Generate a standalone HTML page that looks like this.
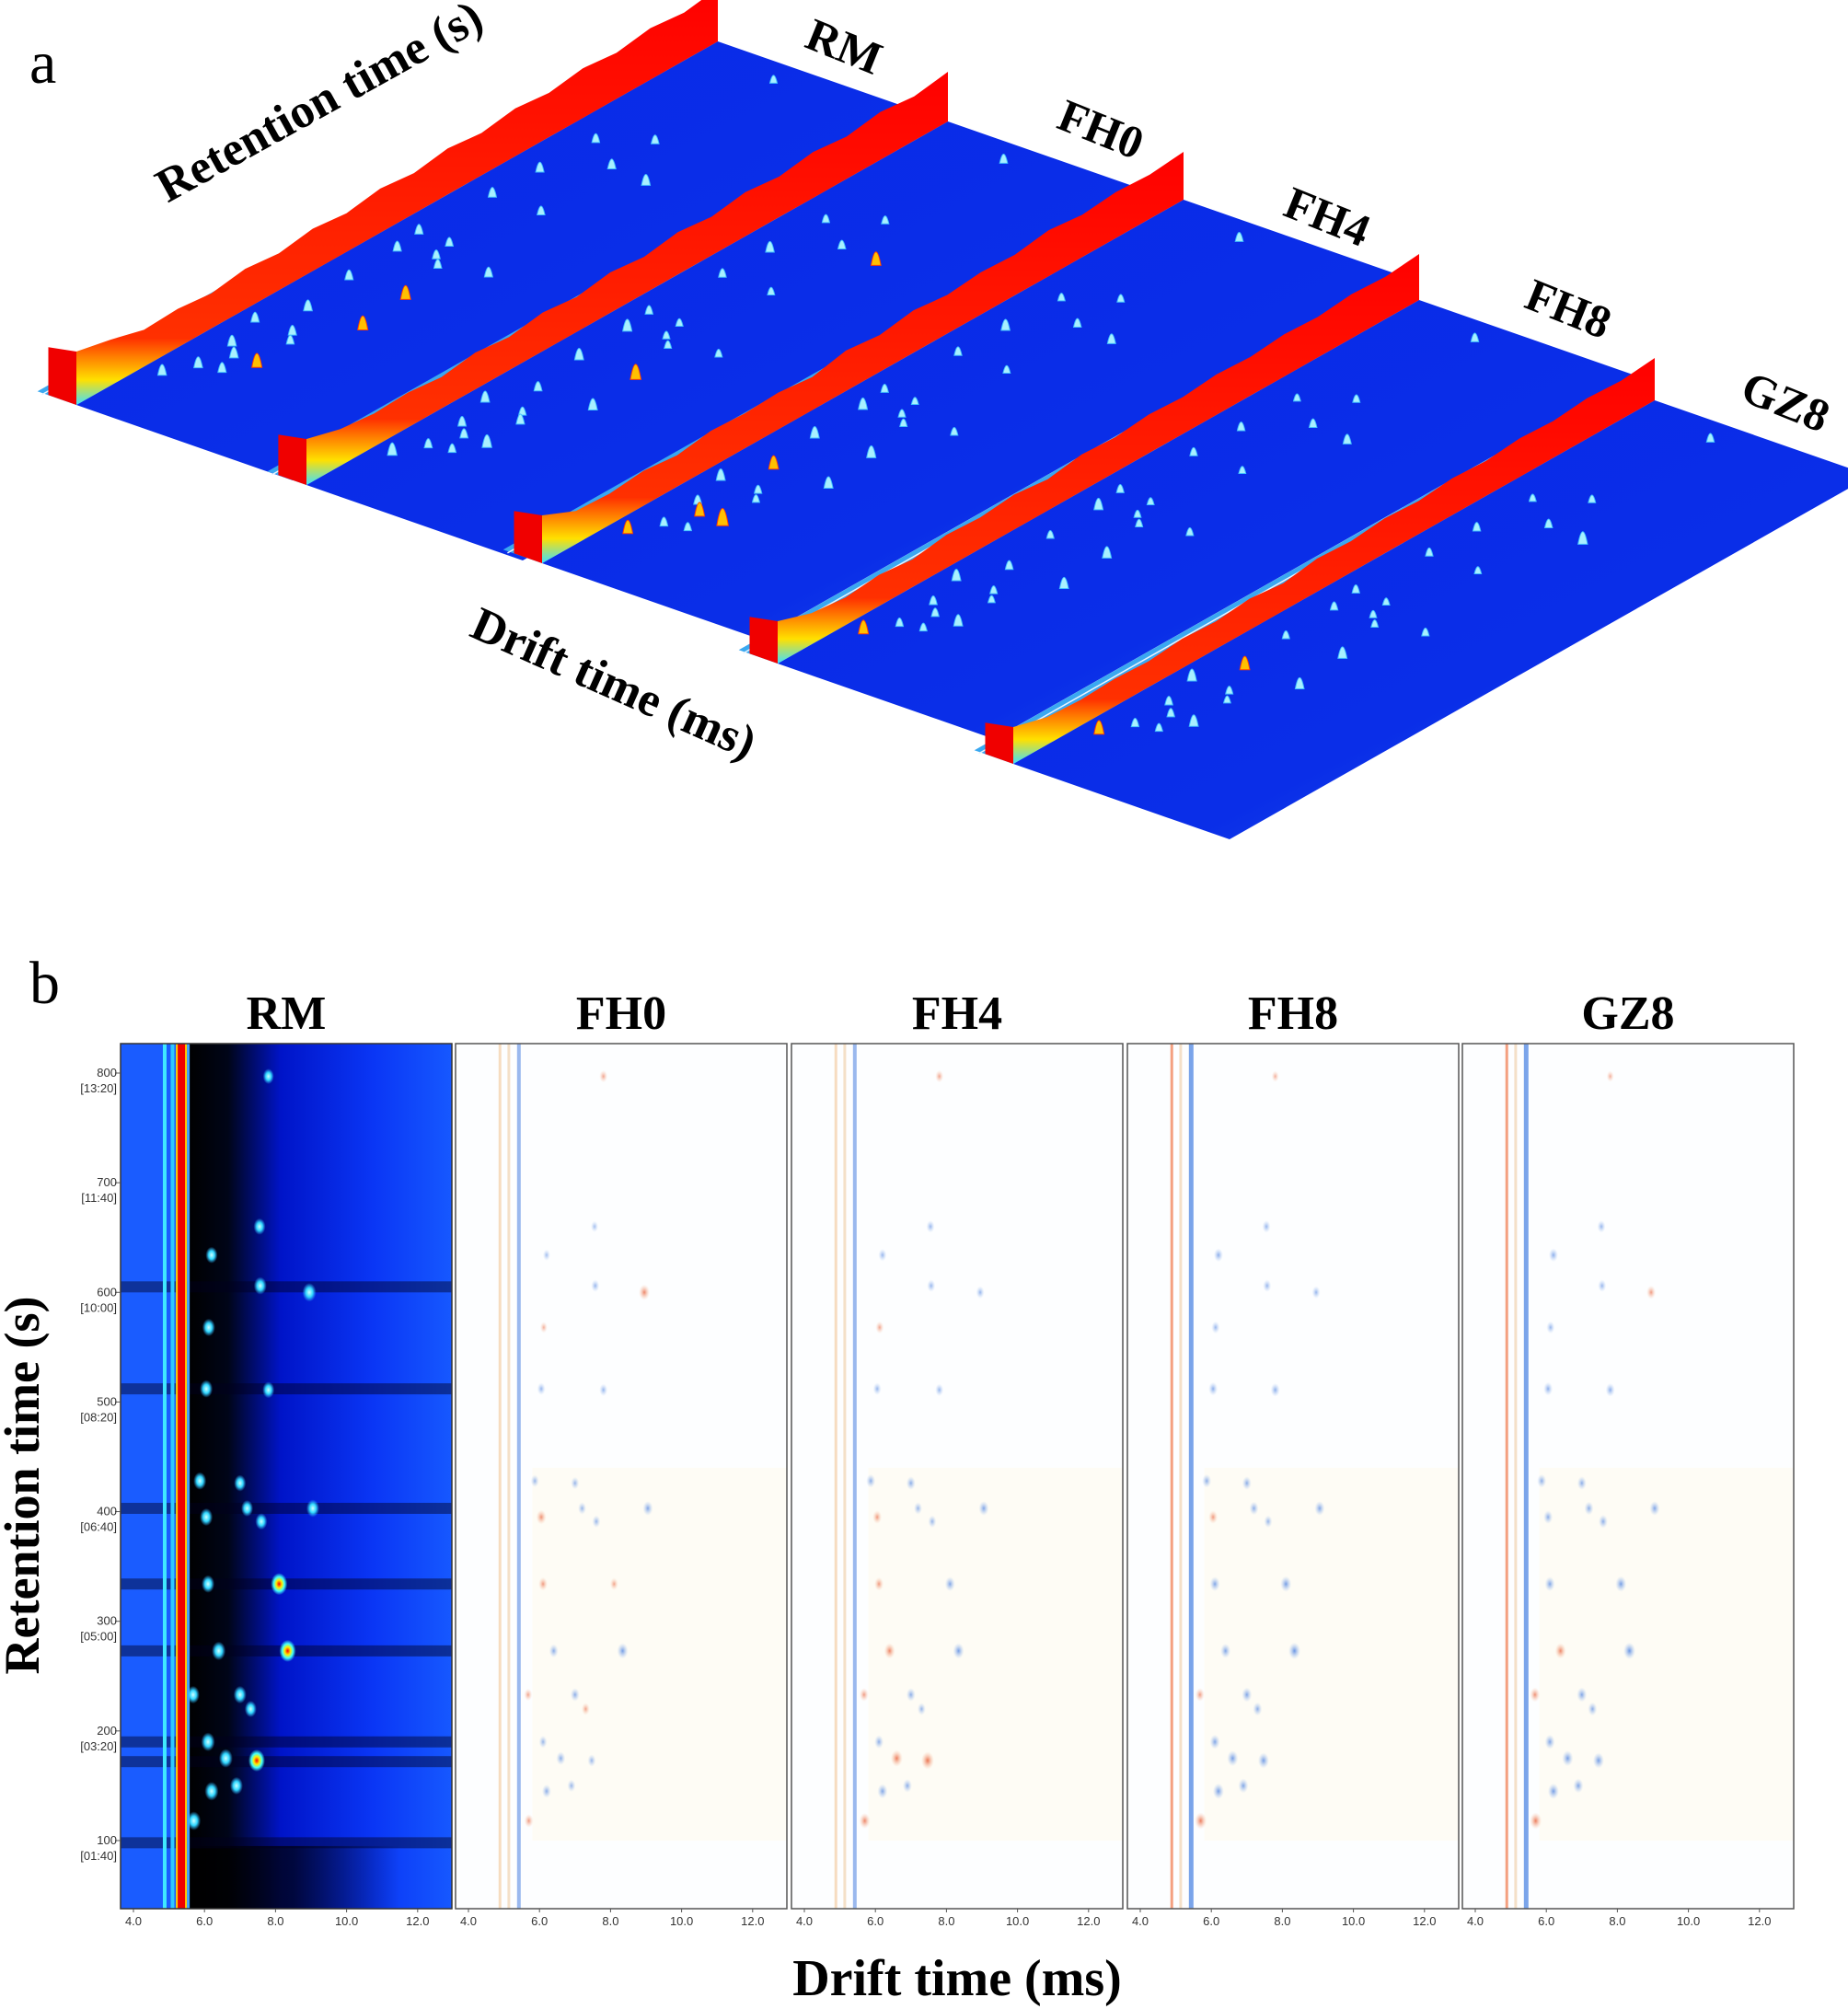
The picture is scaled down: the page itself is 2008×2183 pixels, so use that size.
<!DOCTYPE html>
<html><head><meta charset="utf-8">
<style>
html,body{margin:0;padding:0;background:#fff;}
svg{display:block;}
.t{font-family:"Liberation Serif",serif;font-weight:bold;fill:#000;}
.tk{font-family:"Liberation Sans",sans-serif;font-size:13px;fill:#333;}
</style></head>
<body>
<svg id="fig" width="2008" height="2183" viewBox="0 0 2008 2183" xmlns="http://www.w3.org/2000/svg">
<defs>
<linearGradient id="sheetG" x1="0" y1="0" x2="1" y2="1">
<stop offset="0" stop-color="#0828e8"/><stop offset="0.6" stop-color="#0a2ee8"/><stop offset="1" stop-color="#2a70f2"/></linearGradient>
<linearGradient id="ridgeG" x1="0" y1="1" x2="0" y2="0">
<stop offset="0" stop-color="#40e0ff"/><stop offset="0.06" stop-color="#ffe000"/><stop offset="0.16" stop-color="#ff3000"/><stop offset="1" stop-color="#ff0000"/></linearGradient>
<radialGradient id="hot"><stop offset="0" stop-color="#ff0000"/><stop offset="0.35" stop-color="#ffee00"/><stop offset="0.65" stop-color="#40ffff"/><stop offset="1" stop-color="#40ffff" stop-opacity="0"/></radialGradient>
<radialGradient id="cy"><stop offset="0" stop-color="#d0ffff"/><stop offset="0.5" stop-color="#30d8ff"/><stop offset="1" stop-color="#30b0ff" stop-opacity="0"/></radialGradient>
<radialGradient id="blu"><stop offset="0" stop-color="#4a7fe0"/><stop offset="1" stop-color="#a0c0f0" stop-opacity="0"/></radialGradient>
<radialGradient id="org"><stop offset="0" stop-color="#e8603a"/><stop offset="1" stop-color="#f8c0a0" stop-opacity="0"/></radialGradient>
<linearGradient id="rmBg" x1="0" y1="0" x2="1" y2="0">
<stop offset="0" stop-color="#000000"/><stop offset="0.15" stop-color="#000518"/><stop offset="0.35" stop-color="#0014c8"/><stop offset="0.7" stop-color="#0a36f5"/><stop offset="1" stop-color="#1658ff"/></linearGradient>
<linearGradient id="rmLow" x1="0" y1="0" x2="1" y2="0">
<stop offset="0" stop-color="#000" stop-opacity="0.9"/><stop offset="0.4" stop-color="#000" stop-opacity="0.7"/><stop offset="0.8" stop-color="#000" stop-opacity="0"/></linearGradient>
</defs>
<g id="panelA"></g>
<g id="panelB"></g>
<text class="t" x="32" y="90" style="font-weight:normal;font-size:66px">a</text>
<text class="t" x="32" y="1090" style="font-weight:normal;font-size:66px">b</text>
<text class="t" transform="translate(355,125) rotate(-29)" text-anchor="middle" font-size="52">Retention time (s)</text>
<text class="t" transform="translate(660,758) rotate(24)" text-anchor="middle" font-size="52">Drift time (ms)</text>
<text class="t" transform="translate(42,1614) rotate(-90)" text-anchor="middle" font-size="54">Retention time (s)</text>
<text class="t" x="1040" y="2168" text-anchor="middle" font-size="56">Drift time (ms)</text>
</svg>
<script>
var NS="http://www.w3.org/2000/svg";
var samples=["RM","FH0","FH4","FH8","GZ8"];
var spotDrift=[8.1,8.34,7.47,8.95,9.05,6.05,7.8,6.12,6.2,5.87,6.05,7.57,7.0,7.2,7.6,6.1,6.4,7.0,5.68,6.1,5.7,6.2,7.8,7.55,6.6,6.9,7.3];
var spotRt=[334,273,173,600,403,512,511,568,634,428,395,606,426,403,391,334,273,233,233,190,118,145,797,660,175,150,220];
var rmInt=[1,1,1,0.7,0.6,0.6,0.5,0.6,0.5,0.6,0.6,0.6,0.5,0.5,0.5,0.6,0.7,0.6,0.6,0.7,0.7,0.7,0.4,0.5,0.7,0.6,0.5];
var fh0Diff=[0.3,-0.6,-0.3,0.6,-0.5,-0.3,-0.3,0.2,-0.2,-0.3,0.5,-0.3,-0.3,-0.3,-0.3,0.4,-0.4,-0.4,0.3,-0.3,0.4,-0.4,0.3,-0.2,-0.4,-0.3,0.3];
var fh4Diff=[-0.5,-0.6,0.8,-0.3,-0.5,-0.3,-0.3,0.3,-0.3,-0.4,0.4,-0.3,-0.4,-0.3,-0.3,0.4,0.6,-0.4,0.4,-0.4,0.6,-0.5,0.3,-0.3,0.7,-0.4,-0.3];
var fh8Diff=[-0.6,-0.7,-0.6,-0.3,-0.5,-0.4,-0.4,-0.3,-0.4,-0.4,0.4,-0.3,-0.4,-0.4,-0.3,-0.5,-0.5,-0.5,0.4,-0.5,0.7,-0.6,0.2,-0.3,-0.6,-0.5,-0.4];
var gz8Diff=[-0.6,-0.7,-0.6,0.4,-0.5,-0.4,-0.4,-0.3,-0.4,-0.4,-0.4,-0.3,-0.4,-0.4,-0.4,-0.5,0.6,-0.5,0.5,-0.5,0.7,-0.6,0.2,-0.3,-0.6,-0.5,-0.4];
var diffs=[null,fh0Diff,fh4Diff,fh8Diff,gz8Diff];
var xTicks=[4,6,8,10,12];
var xTickLabels=["4.0","6.0","8.0","10.0","12.0"];
var yTicks=[100,200,300,400,500,600,700,800];
var yTickLabels=["[01:40]","[03:20]","[05:00]","[06:40]","[08:20]","[10:00]","[11:40]","[13:20]"];
var bandRt=[605,512,403,334,273,190,172,98];
var ridgeRM=[58,50,40,42,38,44,40,46,42,48,44,50,46,52,48,54,50,56,52,58];
var ridgeFH0=[50,40,36,38,34,40,36,42,38,44,40,46,42,48,44,50,46,52,48,54];
var ridgeFH4=[52,36,34,38,34,40,38,40,36,44,40,46,42,46,44,50,46,50,48,52];
var ridgeFH8=[46,34,30,34,30,36,34,38,34,40,38,42,40,44,42,46,44,48,46,50];
var ridgeGZ8=[40,30,28,30,28,32,30,34,30,36,34,38,36,40,38,42,40,44,42,46];
var ridges=[ridgeRM,ridgeFH0,ridgeFH4,ridgeFH8,ridgeGZ8];

function el(tag,attrs,parent){var e=document.createElementNS(NS,tag);for(var k in attrs)e.setAttribute(k,attrs[k]);parent.appendChild(e);return e;}

/* ---------- panel b ---------- */
var pb=document.getElementById("panelB");
var panelLefts=[131,495,860,1225,1589];
var pW=360, pTop=1134, pBot=2074;
function xs(i,d){return panelLefts[i]+14+(d-4)*38.6;}
function ys(rt){return 1166+(800-rt)*1.1914;}
function clipId(i){return "clip"+i;}
samples.forEach(function(name,i){
  var g=el("g",{},pb);
  
  
  var L=panelLefts[i];
  var cp=el("clipPath",{id:clipId(i)},g);
  el("rect",{x:L,y:pTop,width:pW,height:pBot-pTop},cp);
  var inner=el("g",{"clip-path":"url(#"+clipId(i)+")"},g);
  if(i===0){
    el("rect",{x:L,y:pTop,width:pW,height:pBot-pTop,fill:"#1a5cff"},inner);
    var x0=xs(0,5.55);
    el("rect",{x:x0,y:pTop,width:L+pW-x0,height:pBot-pTop,fill:"url(#rmBg)"},inner);
    el("rect",{x:x0,y:ys(95),width:L+pW-x0,height:pBot-ys(95),fill:"url(#rmLow)"},inner);
    bandRt.forEach(function(r,k){
      var b=el("rect",{x:L,y:ys(r)-6,width:pW,height:12,fill:"#000020",opacity:0.45},inner);
      
      
    });
    [[4.88,"#40e8ff",4],[5.1,"#30c8ff",4]].forEach(function(v){el("rect",{x:xs(0,v[0])-v[2]/2,y:pTop,width:v[2],height:pBot-pTop,fill:v[1]},inner);});
    el("rect",{x:xs(0,5.35)-6,y:pTop,width:12,height:pBot-pTop,fill:"#ffd000"},inner);
    var rip=el("rect",{x:xs(0,5.35)-4,y:pTop,width:8,height:pBot-pTop,fill:"#f00000"},inner);
    
    
    el("rect",{x:xs(0,5.35)+6,y:pTop,width:3,height:pBot-pTop,fill:"#40a0ff"},inner);
    spotDrift.forEach(function(d,k){
      var v=rmInt[k];
      var s=el("ellipse",{cx:xs(0,d),cy:ys(spotRt[k]),rx:4+v*5,ry:6+v*6,fill:v>=0.9?"url(#hot)":"url(#cy)"},inner);
      
      
    });
  } else {
    el("rect",{x:L,y:pTop,width:pW,height:pBot-pTop,fill:"#fdfeff"},inner);
    el("rect",{x:xs(i,5.8),y:ys(440),width:pW,height:ys(100)-ys(440),fill:"#fffaec",opacity:0.5},inner);
    el("rect",{x:xs(i,4.9)-2,y:pTop,width:3,height:pBot-pTop,fill:i>=3?"#f4a080":"#f6dcc0"},inner);
    el("rect",{x:xs(i,5.15)-2,y:pTop,width:3,height:pBot-pTop,fill:"#f4e0c8"},inner);
    var bl=el("rect",{x:xs(i,5.42)-2,y:pTop,width:i>=3?5:4,height:pBot-pTop,fill:i>=3?"#7aa4ea":"#9ab8ee"},inner);
    
    
    var dv=diffs[i];
    spotDrift.forEach(function(d,k){
      var v=dv[k];
      var s=el("ellipse",{cx:xs(i,d),cy:ys(spotRt[k]),rx:3+Math.abs(v)*5,ry:5+Math.abs(v)*6,fill:v<0?"url(#blu)":"url(#org)",opacity:0.4+Math.abs(v)*0.6},inner);
      
      
    });
  }
  var fr=el("rect",{x:L,y:pTop,width:pW,height:pBot-pTop,fill:"none",stroke:i===0?"#333":"#555","stroke-width":1.5},g);
  
  
  var ti=el("text",{x:L+pW/2,y:1118,"text-anchor":"middle","class":"t","font-size":52},g);
  ti.textContent=name;
  
  
  xTicks.forEach(function(v,k){
    el("line",{x1:xs(i,v),y1:pBot,x2:xs(i,v),y2:pBot+4,stroke:"#555"},g);
    var t=el("text",{x:xs(i,v),y:pBot+18,"class":"tk","text-anchor":"middle"},g);
    t.textContent=xTickLabels[k];
    
    
  });
});
yTicks.forEach(function(v,k){
  el("line",{x1:125,y1:ys(v),x2:131,y2:ys(v),stroke:"#555"},pb);
  var t=el("text",{x:127,y:ys(v)+4,"class":"tk","text-anchor":"end"},pb);
  t.textContent=String(v);
  
  
  var t2=el("text",{x:127,y:ys(v)+21,"class":"tk","text-anchor":"end"},pb);
  t2.textContent=yTickLabels[k];
  
  
});

/* ---------- panel a ---------- */
var pa=document.getElementById("panelA");
var A0=[[83,440],[333,527],[589,612],[845,721],[1101,830]];
var V=[697,-395], D=[235,82];
function P(i,t,u){return [A0[i][0]+t*V[0]+u*D[0], A0[i][1]+t*V[1]+u*D[1]];}
function pts(a){return a.map(function(p){return p[0].toFixed(1)+","+p[1].toFixed(1);}).join(" ");}
var labelPos=[[911,66],[1190,156],[1436,251],[1698,351],[1934,452]];
samples.forEach(function(name,i){
  var g=el("g",{},pa);
  
  
  el("polygon",{points:pts([P(i,0,-0.18),P(i,1,-0.18),P(i,1,0),P(i,0,0)]),fill:"#3aa8f0"},g);
  var sh=el("polygon",{points:pts([P(i,0,0),P(i,1,0),P(i,1,1),P(i,0,1)]),fill:"url(#sheetG)"},g);
  
  
  el("line",{x1:P(i,0,-0.16)[0],y1:P(i,0,-0.16)[1]+2,x2:P(i,1,-0.16)[0],y2:P(i,1,-0.16)[1]+2,stroke:"#e8f4ff","stroke-width":1.5},g);
  spotDrift.forEach(function(d,k){
    var t=(spotRt[k]-38)/(827-38), u=(d-5.35)/(13-5.35)+0.05;
    var v=i===0?rmInt[k]:Math.max(0.3,rmInt[k]+diffs[i][k]*0.4);
    var p=P(i,t,u), h=5+v*14, w=3+v*2.5;
    var pk=el("path",{d:"M"+(p[0]-w)+","+p[1]+" Q"+p[0]+","+(p[1]-h*1.6)+" "+(p[0]+w)+","+p[1]+" Z",fill:v>=0.9?"#ffc000":"#a8f0ff",stroke:v>=0.9?"#ff4000":"#40c0ff","stroke-width":1},g);
    
    
  });
  var hs=ridges[i], top=[], base=[];
  hs.forEach(function(h,k){var t=k/(hs.length-1);var b=P(i,t,0);base.push(b);top.push([b[0],b[1]-h]);});
  var rp=top.concat(base.slice().reverse());
  var rg=el("polygon",{points:pts(rp),fill:"url(#ridgeG)"},g);
  
  
  var b0=P(i,0,0), b1=P(i,0,-0.13);
  el("polygon",{points:pts([[b1[0],b1[1]],[b0[0],b0[1]],[b0[0],b0[1]-hs[0]],[b1[0],b1[1]-hs[0]+6]]),fill:"#f00000"},g);
  var lp=labelPos[i];
  var lb=el("text",{"class":"t","font-size":50,transform:"translate("+lp[0]+","+lp[1]+") rotate(22)","text-anchor":"middle"},g);
  lb.textContent=name;
  
  
});
</script>
</body></html>
